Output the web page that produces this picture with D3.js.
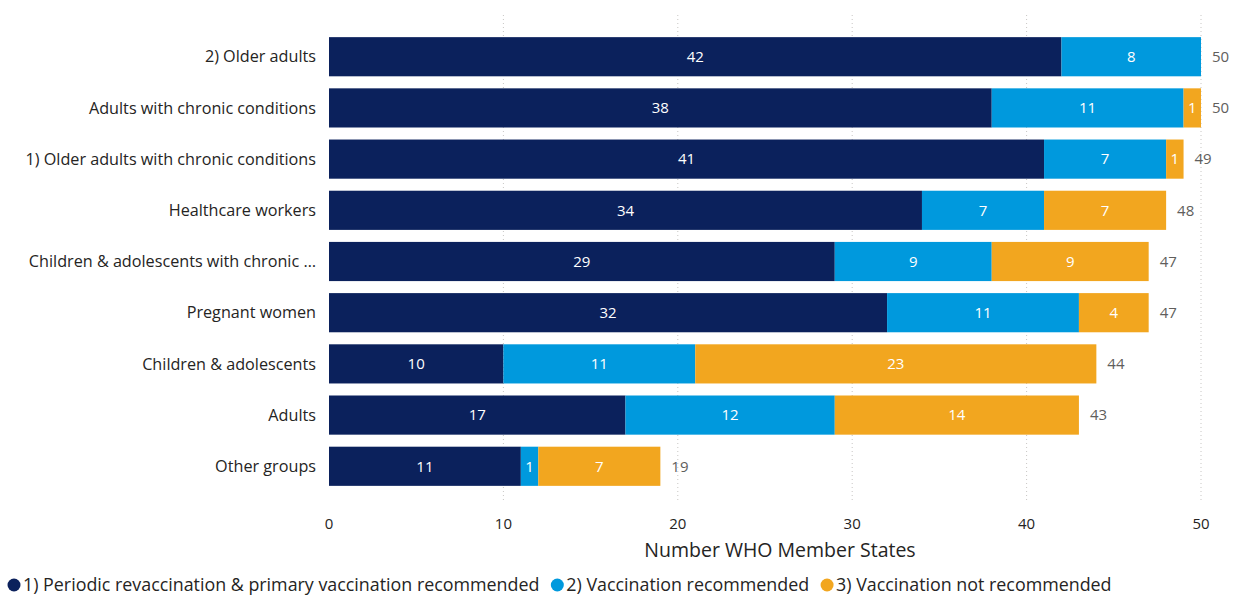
<!DOCTYPE html>
<html>
<head>
<meta charset="utf-8">
<script src="https://cdn.jsdelivr.net/npm/d3@7"></script>
<style>
  html, body { margin: 0; padding: 0; background: #fff; }
  svg { display: block; font-family: "Open Sans", "Noto Sans", sans-serif; }
</style>
</head>
<body>
<svg id="chart" width="1233" height="596"></svg>
<script>
// Population groups, top to bottom
const categories = [
  "2) Older adults",
  "Adults with chronic conditions",
  "1) Older adults with chronic conditions",
  "Healthcare workers",
  "Children & adolescents with chronic …",
  "Pregnant women",
  "Children & adolescents",
  "Adults",
  "Other groups"
];
const seriesNames = [
  "1) Periodic revaccination & primary vaccination recommended",
  "2) Vaccination recommended",
  "3) Vaccination not recommended"
];
const periodic       = [42, 38, 41, 34, 29, 32, 10, 17, 11];
const recommended    = [8, 11, 7, 7, 9, 11, 11, 12, 1];
const notRecommended = [0, 1, 1, 7, 9, 4, 23, 14, 7];
const xTicks = [0, 10, 20, 30, 40, 50];
const colors = ["#0B215C", "#0099DD", "#F2A61F"];

const svg = d3.select("#chart");
const margin = { left: 329, top: 31 };

const x = d3.scaleLinear().domain([0, 50]).range([margin.left, 1201]);
const y = d3.scaleBand().domain(categories).range([margin.top, 492]).paddingInner(0.235).paddingOuter(0.12);

// Gridlines
svg.append("g").selectAll("line").data(xTicks.filter(d => d > 0)).join("line")
  .attr("x1", d => x(d)).attr("x2", d => x(d))
  .attr("y1", 15).attr("y2", 502)
  .attr("stroke", "#C8C6C4").attr("stroke-width", 1).attr("stroke-dasharray", "1,3");

// X tick labels
svg.append("g").selectAll("text").data(xTicks).join("text")
  .attr("x", d => x(d)).attr("y", 529)
  .attr("text-anchor", "middle").attr("font-size", 15).attr("fill", "#252423")
  .text(d => d);

svg.append("text").attr("x", 780).attr("y", 557)
  .attr("text-anchor", "middle").attr("font-size", 19.5).attr("fill", "#252423")
  .text("Number WHO Member States");

// Stack
const rows = categories.map((c, i) => ({ cat: c, s0: periodic[i], s1: recommended[i], s2: notRecommended[i] }));
const stack = d3.stack().keys(["s0", "s1", "s2"])(rows);

stack.forEach((layer, li) => {
  const g = svg.append("g");
  g.selectAll("rect").data(layer.filter(d => d[1] - d[0] > 0)).join("rect")
    .attr("x", d => x(d[0])).attr("width", d => x(d[1]) - x(d[0]))
    .attr("y", d => y(d.data.cat)).attr("height", y.bandwidth())
    .attr("fill", colors[li]);
  g.selectAll("text").data(layer.filter(d => d[1] - d[0] > 0)).join("text")
    .attr("x", d => (x(d[0]) + x(d[1])) / 2)
    .attr("y", d => y(d.data.cat) + y.bandwidth() / 2)
    .attr("dy", "0.35em").attr("text-anchor", "middle")
    .attr("font-size", 15).attr("fill", "#fff")
    .text(d => d[1] - d[0]);
});

// Totals
svg.append("g").selectAll("text").data(rows).join("text")
  .attr("x", d => x(d.s0 + d.s1 + d.s2) + 11)
  .attr("y", d => y(d.cat) + y.bandwidth() / 2)
  .attr("dy", "0.35em").attr("font-size", 15).attr("fill", "#605E5C")
  .text(d => d.s0 + d.s1 + d.s2);

// Category labels
svg.append("g").selectAll("text").data(categories).join("text")
  .attr("x", 316).attr("y", d => y(d) + y.bandwidth() / 2)
  .attr("dy", "0.35em").attr("text-anchor", "end")
  .attr("font-size", 16.2).attr("fill", "#252423")
  .text(d => d);

// Legend
const legend = svg.append("g").attr("transform", "translate(0,585)");
let lx = 7;
seriesNames.forEach((name, i) => {
  legend.append("circle").attr("cx", lx + 7).attr("cy", 0).attr("r", 6.5).attr("fill", colors[i]);
  const t = legend.append("text").attr("x", lx + 16).attr("y", 0).attr("dy", "0.35em")
    .attr("font-size", 17.85).attr("fill", "#252423").text(name);
  lx += 16 + t.node().getComputedTextLength() + 11;
});
</script>
</body>
</html>
